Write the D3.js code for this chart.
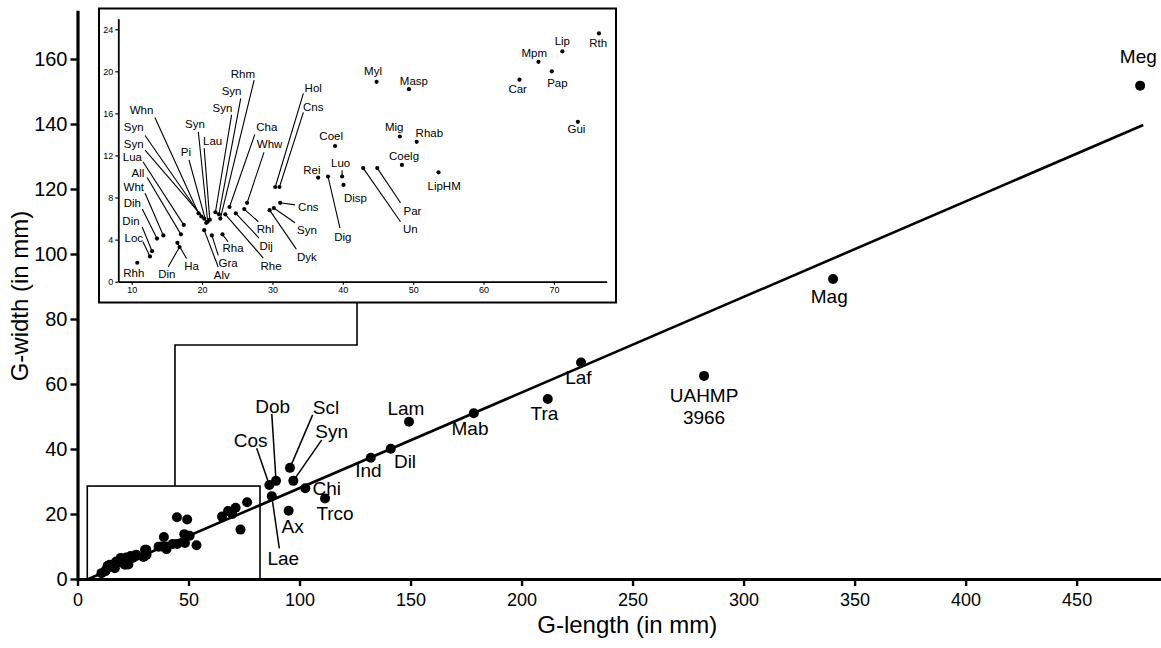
<!DOCTYPE html>
<html>
<head>
<meta charset="utf-8">
<script src="https://cdn.jsdelivr.net/npm/d3@7"></script>
<style>
  body { margin: 0; background: #fff; }
  svg { display: block; font-family: "Liberation Sans", Arial, sans-serif; }
</style>
</head>
<body>
<svg id="chart" width="1161" height="648"></svg>
<script>
// ---- data (G-length / G-width, mm) ----
var insetNames = ['Rhh','Loc','Din','Dih','Wht','All','Lua','Syn','Syn','Whn',
    'Pi','Syn','Lau','Syn','Syn','Rhm','Rhe','Cha','Dij','Rhl',
    'Whw','Alv','Gra','Rha','Din','Ha','Dyk','Syn','Cns','Hol',
    'Cns','Rei','Dig','Luo','Disp','Coel','Un','Par','Coelg','Mig',
    'Rhab','LipHM','Myl','Masp','Car','Mpm','Pap','Lip','Gui','Rth'];
var insetLength = [10.8,12.6,12.9,13.6,14.5,17.0,17.4,20.3,19.9,19.5,
    20.6,20.8,21.1,21.9,22.4,22.6,23.3,23.9,24.8,26.0,
    26.4,20.3,21.4,22.9,16.8,16.5,29.6,30.2,31.1,30.4,
    31.0,36.5,37.9,39.9,40.1,38.9,42.9,44.9,48.4,48.1,
    50.5,53.6,44.8,49.4,65.1,67.8,69.7,71.2,73.4,76.4];
var insetWidth = [1.8,2.4,2.9,4.1,4.4,4.5,5.4,6.0,6.2,6.5,
    5.6,5.7,5.9,6.6,6.4,6.0,6.4,7.1,6.5,6.9,
    7.5,4.9,4.4,4.5,3.3,3.7,6.8,7.0,7.5,9.0,
    9.0,9.9,10.0,10.0,9.2,12.9,10.8,10.8,11.1,13.8,
    13.3,10.4,19.0,18.3,19.2,20.9,20.0,21.9,15.2,23.6];

var mainNames = ['Cos','Dob','Lae','Scl','Syn','Ax','Chi','Trco','Ind','Dil',
    'Lam','Mab','Tra','Laf','UAHMP 3966','Mag','Meg'];
var mainLength = [86.4,89.4,87.5,95.7,97.2,95.1,102.6,111.5,132.1,141.1,
    149.3,178.5,211.8,226.8,282.2,340.3,478.6];
var mainWidth = [28.9,30.2,25.5,34.2,30.2,21.0,27.9,24.8,37.3,40.1,
    48.4,51.0,55.4,66.6,62.5,92.3,151.8];

var fitLength = [4.9, 480];
var fitWidth = [0, 139.7];

var xTicks = [0,50,100,150,200,250,300,350,400,450];
var yTicks = [0,20,40,60,80,100,120,140,160];
var insetXTicks = [10,20,30,40,50,60,70];
var insetYTicks = [0,4,8,12,16,20,24];

// ---- label layout: [label x, label y, leader x, leader y] in data units ----
var insetLabelAt = [
    [10.3,0.8],[10.3,4.2,11.6,3.8],[9.9,5.8,11.5,5.2],[10.1,7.45,11.5,6.9],[10.3,8.97,11.9,8.4],
    [10.9,10.36,12.2,9.9],[10.1,11.83,11.6,11.4],[10.3,13.09,11.9,12.5],[10.3,14.68,11.9,13.9],[11.4,16.33,13.3,15.6],
    [17.7,12.36,18.15,11.57],[19.0,14.99,19.47,14.26],[21.5,13.4,20.3,12.7],[22.9,16.48,24.2,15.85],[24.2,18.16,25.5,17.43],
    [25.8,19.74,27.4,19.17],[29.8,1.49,28.7,2.25],[29.2,14.68,27.5,14.0],[29.1,3.39,28.1,4.15],[29.0,4.98,28.0,5.7],
    [29.6,13.09,28.8,12.3],[22.8,0.64,22.3,1.4],[23.7,1.81,22.3,2.5],[24.4,3.17,23.7,3.8],[15.0,0.73,15.2,1.43],
    [18.5,1.49,17.8,2.2],[34.9,2.38,33.4,3.1],[34.9,4.91,33.2,5.6],[35.1,7.13,33.2,7.3],[35.8,18.44,34.4,17.9],
    [35.8,16.63,34.4,16.1],[35.6,10.62],[40.0,4.22,39.6,5.1],[39.7,11.31,39.9,10.6],[41.8,7.98],
    [38.35,13.85],[49.6,4.98,48.2,5.7],[49.9,6.75,48.2,7.5],[48.7,11.98],[47.3,14.73],
    [52.3,14.1],[54.4,9.1],[44.3,20.03],[50.1,19.08],[64.85,18.29],
    [67.2,21.77],[70.5,18.92],[71.2,22.91],[73.2,14.49],[76.3,22.66]
];
var mainLabelAt = [
    [78.0,42.8,80.7,40.2],[87.9,53.2,87.5,50.8],[92.7,6.4,90.9,9.4],[111.9,52.9,105.9,50.5],[114.5,45.3,110.0,42.8],
    [96.9,16.3],[112.3,27.9],[116.0,20.2],[131.0,33.5],[147.5,36.1],
    [147.9,52.5],[176.8,46.4],[210.3,51.0],[225.6,62.1],[282.2,56.6],
    [338.6,86.9],[477.8,160.9]
];

// ---- chart ----
var svg = d3.select('#chart');

var x = d3.scaleLinear().domain([0, 488]).range([77.5, 1161]);
var y = d3.scaleLinear().domain([0, 175]).range([579, 10.25]);

var insetBox = { x0: 99, y0: 8.5, x1: 616, y1: 302.5 };
var ix = d3.scaleLinear().domain([8.1, 77.5]).range([118.3, 606.7]);
var iy = d3.scaleLinear().domain([0, 25]).range([281.7, 18.7]);

// zoom rectangle on main chart + connector
svg.append('rect')
    .attr('x', x(4.4)).attr('y', y(28.6))
    .attr('width', x(82.2) - x(4.4)).attr('height', y(0) - y(28.6))
    .attr('fill', 'none').attr('stroke', '#000').attr('stroke-width', 1.6);

var connector = [[43.9, 28.6], [43.9, 72], [125.9, 72], [125.9, y.invert(insetBox.y1)]];
svg.append('path')
    .attr('d', d3.line().x(function(d) { return x(d[0]); }).y(function(d) { return y(d[1]); })(connector))
    .attr('fill', 'none').attr('stroke', '#000').attr('stroke-width', 1.6);

// inset frame
svg.append('rect')
    .attr('x', insetBox.x0).attr('y', insetBox.y0)
    .attr('width', insetBox.x1 - insetBox.x0).attr('height', insetBox.y1 - insetBox.y0)
    .attr('fill', '#fff').attr('stroke', '#000').attr('stroke-width', 2);

var inset = svg.append('g');

var gx = inset.append('g').attr('transform', 'translate(0,' + iy(0) + ')')
    .call(d3.axisBottom(ix).tickValues(insetXTicks).tickSize(3).tickPadding(2).tickSizeOuter(0));
var gy = inset.append('g').attr('transform', 'translate(' + ix(8.1) + ',0)')
    .call(d3.axisLeft(iy).tickValues(insetYTicks).tickSize(3).tickPadding(2).tickSizeOuter(0));
[gx, gy].forEach(function(g) {
    g.attr('font-family', null).attr('font-size', 9);
    g.select('.domain').attr('stroke-width', 1.8);
    g.selectAll('.tick line').attr('stroke-width', 1.2);
});

var insetIdx = d3.range(insetNames.length);

inset.selectAll('line.lead')
    .data(insetIdx.filter(function(i) { return insetLabelAt[i].length > 2; }))
    .enter().append('line')
    .attr('class', 'lead')
    .attr('x1', function(i) { return ix(insetLabelAt[i][2]); })
    .attr('y1', function(i) { return iy(insetLabelAt[i][3]); })
    .attr('x2', function(i) { return ix(insetLength[i]); })
    .attr('y2', function(i) { return iy(insetWidth[i]); })
    .attr('stroke', '#000').attr('stroke-width', 1.1);

inset.selectAll('circle')
    .data(insetIdx)
    .enter().append('circle')
    .attr('cx', function(i) { return ix(insetLength[i]); })
    .attr('cy', function(i) { return iy(insetWidth[i]); })
    .attr('r', 2.1)
    .attr('fill', '#000');

inset.selectAll('text.lbl')
    .data(insetIdx)
    .enter().append('text')
    .attr('class', 'lbl')
    .attr('x', function(i) { return ix(insetLabelAt[i][0]); })
    .attr('y', function(i) { return iy(insetLabelAt[i][1]); })
    .attr('text-anchor', 'middle')
    .attr('dy', '0.35em')
    .attr('font-size', 11.5)
    .text(function(i) { return insetNames[i]; });

// regression line
svg.append('line')
    .attr('x1', x(fitLength[0])).attr('y1', y(fitWidth[0]))
    .attr('x2', x(fitLength[1])).attr('y2', y(fitWidth[1]))
    .attr('stroke', '#000').attr('stroke-width', 2.6);

// main points: small specimens (same as inset) + labelled large ones
svg.append('g').selectAll('circle')
    .data(insetIdx)
    .enter().append('circle')
    .attr('cx', function(i) { return x(insetLength[i]); })
    .attr('cy', function(i) { return y(insetWidth[i]); })
    .attr('r', 5)
    .attr('fill', '#000');

var mainIdx = d3.range(mainNames.length);
var main = svg.append('g');

main.selectAll('line')
    .data(mainIdx.filter(function(i) { return mainLabelAt[i].length > 2; }))
    .enter().append('line')
    .attr('x1', function(i) { return x(mainLabelAt[i][2]); })
    .attr('y1', function(i) { return y(mainLabelAt[i][3]); })
    .attr('x2', function(i) { return x(mainLength[i]); })
    .attr('y2', function(i) { return y(mainWidth[i]); })
    .attr('stroke', '#000').attr('stroke-width', 1.5);

main.selectAll('circle')
    .data(mainIdx)
    .enter().append('circle')
    .attr('cx', function(i) { return x(mainLength[i]); })
    .attr('cy', function(i) { return y(mainWidth[i]); })
    .attr('r', 5)
    .attr('fill', '#000');

main.selectAll('text')
    .data(mainIdx)
    .enter().append('text')
    .attr('x', function(i) { return x(mainLabelAt[i][0]); })
    .attr('y', function(i) { return y(mainLabelAt[i][1]); })
    .attr('text-anchor', 'middle')
    .attr('font-size', 19)
    .each(function(i) {
        var words = mainNames[i].split(' ');
        var t = d3.select(this);
        words.forEach(function(w, k) {
            t.append('tspan')
                .attr('x', x(mainLabelAt[i][0]))
                .attr('dy', k === 0 ? '0.35em' : '1.15em')
                .text(w);
        });
    });

// main axes
var ax = svg.append('g').attr('transform', 'translate(0,' + y(0) + ')')
    .call(d3.axisBottom(x).tickValues(xTicks).tickSize(7).tickPadding(7).tickSizeOuter(0));
var ay = svg.append('g').attr('transform', 'translate(' + x(0) + ',0)')
    .call(d3.axisLeft(y).tickValues(yTicks).tickSize(7).tickPadding(3).tickSizeOuter(0));
ax.attr('font-family', null).attr('font-size', 18);
ay.attr('font-family', null).attr('font-size', 20);
[ax, ay].forEach(function(g) {
    g.select('.domain').attr('stroke-width', 3.2);
    g.selectAll('.tick line').attr('stroke-width', 2.4);
});

svg.append('text')
    .attr('x', (x(0) + x(488)) / 2 + 8).attr('y', 633)
    .attr('text-anchor', 'middle')
    .attr('font-size', 24)
    .text('G-length (in mm)');

svg.append('text')
    .attr('transform', 'translate(28,' + 296 + ') rotate(-90)')
    .attr('text-anchor', 'middle')
    .attr('font-size', 24)
    .text('G-width (in mm)');
</script>
</body>
</html>
